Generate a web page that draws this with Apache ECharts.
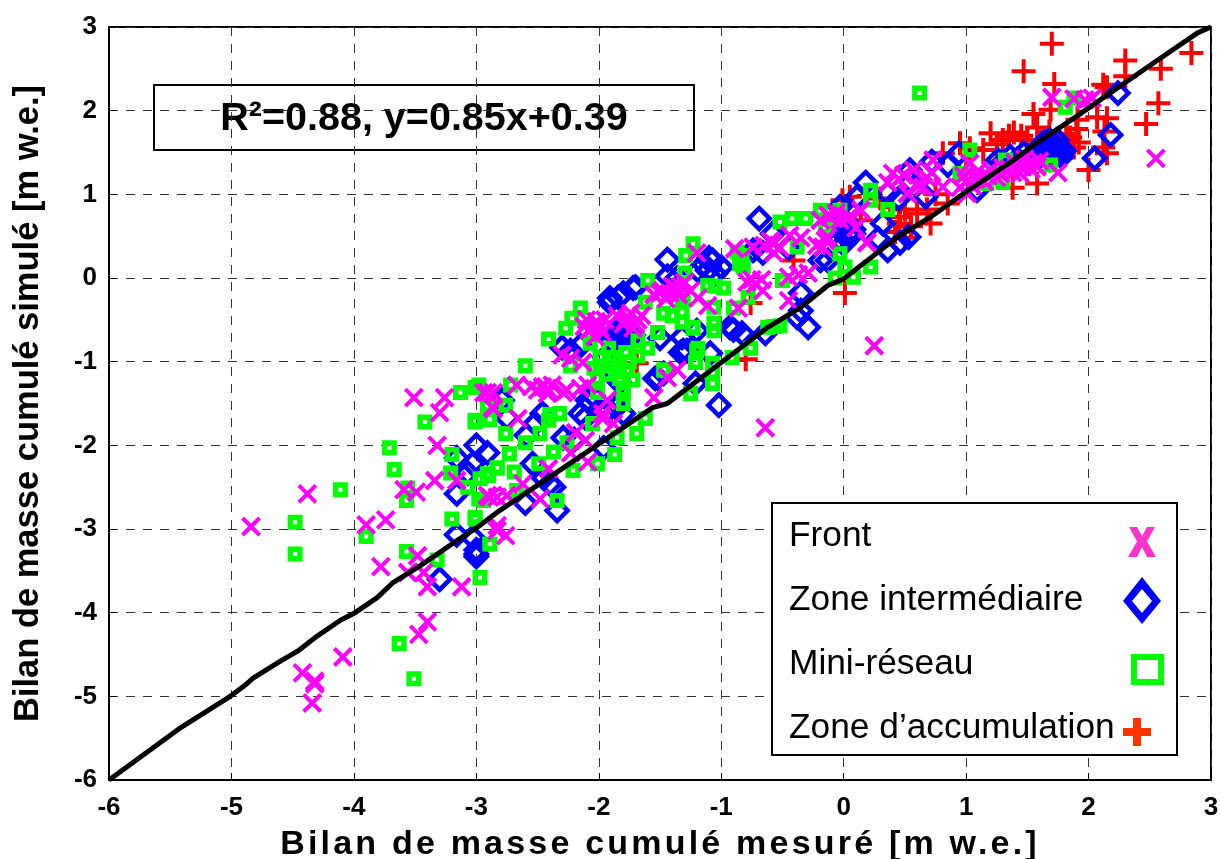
<!DOCTYPE html>
<html><head><meta charset="utf-8">
<style>html,body{margin:0;padding:0;background:#fff}#c{width:1220px;height:859px}</style>
<script src="https://cdn.jsdelivr.net/npm/echarts@6/dist/echarts.min.js"></script>
</head><body><div id="c"></div>
<script>
const seriesNames = ['Front','Zone intermédiaire','Mini-réseau','Zone d’accumulation'];
const axisXTitle = 'Bilan de masse cumulé mesuré [m w.e.]';
const axisYTitle = 'Bilan de masse cumulé simulé [m w.e.]';
const fitLabel = 'R²=0.88, y=0.85x+0.39';

const front = [
[-4.38,-2.58],[-4.84,-2.97],[-3.9,-2.95],[-3.74,-2.89],[-3.78,-3.45],[-3.48,-3.32],[-3.56,-3.52],[-3.43,-3.52],[-3.4,-3.69],[-3.12,-3.69],
[-3.4,-4.11],[-3.47,-4.26],[-4.09,-4.53],[-4.42,-4.72],[-4.32,-4.82],[-4.32,-4.85],[-4.34,-5.08],[-3.51,-1.43],[-3.26,-1.43],[-3.3,-1.61],
[-3.32,-2.0],[-3.34,-2.42],[-3.16,-2.42],[-3.49,-2.56],[-3.59,-2.53],[-2.94,-1.37],[-2.86,-1.37],[-2.87,-1.55],[-2.91,-2.6],[-2.83,-2.62],[-2.83,-3.02],[-2.76,-3.08],
[-2.1,-0.5],[-2.05,-0.6],[-2.0,-0.55],[-1.97,-0.65],[-1.95,-0.5],[-2.03,-0.7],[-2.08,-0.62],[-2.02,-0.52],[-2.12,-0.58],[-1.99,-0.6],
[-1.85,-0.45],[-1.78,-0.5],[-1.74,-0.42],[-1.7,-0.55],[-1.65,-0.45],[-1.72,-0.6],[-1.8,-0.55],[-1.76,-0.47],[-1.68,-0.5],
[-1.55,-0.2],[-1.48,-0.15],[-1.4,-0.1],[-1.35,-0.2],[-1.3,-0.05],[-1.25,-0.15],[-1.45,-0.25],[-1.42,-0.18],[-1.37,-0.12],[-1.5,-0.18],[-1.33,-0.1],
[-1.19,-0.24],[-1.11,-0.33],[-1.2,0.3],[-0.89,0.35],[-0.86,-0.36],[-0.79,-0.05],[-0.72,-0.07],[-0.67,-0.02],[-0.66,-0.15],[-0.75,-0.02],
[-0.45,0.01],[-0.29,0.06],[-0.37,0.04],[-0.45,-0.27],[-0.57,0.41],[-0.74,0.37],[-0.65,0.39],[-0.57,0.3],[-0.44,0.51],[-0.35,0.48],[-0.22,0.39],[-0.15,0.45],[-0.6,0.44],[-0.52,0.36],
[-0.13,0.75],[-0.06,0.78],[0.03,0.71],[0.14,0.81],[0.19,0.42],
[-2.23,-0.96],[-2.3,-0.92],[-2.13,-1.01],[-2.42,-1.32],[-2.29,-1.37],[-2.15,-1.32],[-1.93,-1.46],[-1.36,-1.1],[-1.44,-1.19],[-1.55,-1.43],[-1.97,-1.62],
[-2.91,-1.37],[-2.86,-1.56],[-2.66,-1.68],[-2.67,-1.28],[-2.5,-1.34],[-2.42,-1.38],[-2.26,-1.34],[-2.09,-1.28],[-1.97,-1.68],[-2.19,-1.85],[-2.11,-1.94],[-2.23,-2.09],[-2.09,-2.2],[-2.41,-2.28],[-2.62,-2.46],[-2.89,-2.62],[-2.75,-2.6],[-2.48,-2.64],[-2.83,-2.96],[-1.88,-1.74],[-2.46,-1.3],[-2.38,-1.28],[-2.55,-1.3],
[1.7,2.16],[1.88,2.14],[1.97,2.13],[2.03,2.15],[2.55,1.43],[1.75,1.26],[1.55,1.38],[1.44,1.25],[1.5,1.35],[1.6,1.4],[1.35,1.3],[1.25,1.2],[1.3,1.32],[1.4,1.38],[1.48,1.42],[1.15,1.15],[1.1,1.28],[1.05,1.1],[1.38,1.26],[1.45,1.33],[1.53,1.3],[1.28,1.25],[1.18,1.22],[1.08,1.18],[1.0,1.15],[1.58,1.33],
[1.03,1.37],[1.01,1.01],[0.95,1.08],[1.12,1.2],[1.2,1.29],[0.98,1.22],[0.73,1.41],[0.72,1.26],[0.65,1.09],[0.52,1.01],[0.6,1.1],[0.4,1.25],[0.49,1.23],[0.36,1.14],[0.57,1.29],[0.81,1.09],[0.45,1.18],[0.68,1.2],
[0.14,0.81],[0.05,0.73],[-0.11,0.73],[-0.03,0.69],[-0.19,0.69],[-0.13,0.49],[-0.17,0.37],[0.19,0.43],[0.1,0.6],[0.25,-0.81],[-0.64,-1.79]
];
const intermediate = [
[-3.16,-2.15],[-3.0,-2.0],[-2.91,-2.09],[-3.07,-2.33],[-3.16,-2.58],[-3.16,-3.07],[-3.03,-3.1],[-3.0,-3.3],[-3.0,-3.33],[-3.0,-3.25],[-3.3,-3.6],
[-1.91,-0.29],[-1.84,-0.23],[-1.72,-0.12],[-1.8,-0.18],[-2.23,-0.87],[-2.3,-0.83],[-2.15,-0.81],
[-1.85,-0.7],[-1.8,-0.72],[-1.75,-0.72],[-1.9,-0.75],[-1.83,-0.65],[-1.78,-0.65],[-1.72,-0.68],[-1.86,-0.62],[-1.82,-0.75],[-1.77,-0.6],[-1.88,-0.68],[-1.5,-0.72],[-1.33,-0.89],[-1.28,-0.87],[-1.54,-1.2],[-1.47,-1.14],
[-2.07,-1.5],[-1.99,-1.58],[-2.15,-1.62],[-1.8,-1.62],[-1.91,-1.08],[-1.83,-1.25],[-1.95,-0.95],[-2.05,-1.4],[-1.86,-1.55],
[-3.03,-2.22],[-2.75,-1.67],[-2.52,-1.74],[-2.59,-1.88],[-2.79,-1.46],[-2.46,-1.62],[-2.11,-1.67],[-1.92,-1.58],[-2.09,-1.46],[-2.29,-1.91],[-2.2,-1.93],[-1.96,-2.03],[-2.54,-2.22],[-2.4,-2.46],[-2.37,-2.5],[-2.45,-2.39],[-2.6,-2.69],[-2.34,-2.78],
[-1.44,0.22],[-1.7,-0.11],[-1.91,-0.24],[-1.07,0.21],[-1.0,0.13],[-1.11,0.09],[-1.19,0.09],[-1.1,0.24],[-1.44,0.02],[-1.36,0],[-1.05,0.05],[-1.14,0.16],[-1.2,-0.63],[-0.93,-0.59],[-0.83,-0.66],[-0.9,-0.62],[-0.64,-0.66],[-1.32,-0.71],[-1.31,-0.87],[-1.52,-1.19],[-1.09,-0.9],[-1.21,-1.26],[-1.02,-1.52],[-1.83,-0.75],
[-0.69,0.71],[-0.29,-0.59],[-0.38,-0.47],[-0.35,-0.39],[-0.35,-0.18],[-0.19,0.21],[-0.02,0.55],[0.05,0.5],[0.02,0.62],[0.08,0.58],[-0.05,0.45],[0,0.7],[0.18,1.14],[-0.03,0.85],[0.11,0.97],[-0.74,0.33],[-0.58,0.53],[-0.66,0.3],[-0.45,0.36],[0.03,0.52],[0.0,0.6],
[2.24,2.21],[2.18,1.71],[2.05,1.43],[1.6,1.45],[1.65,1.55],[1.7,1.6],[1.72,1.5],[1.75,1.55],[1.78,1.45],[1.68,1.42],[1.62,1.6],[1.74,1.65],[1.66,1.5],[1.7,1.45],[1.72,1.58],[1.76,1.5],[1.64,1.62],[1.68,1.65],[1.58,1.52],[1.8,1.52],[1.7,1.52],[1.47,1.49],[1.36,1.45],[1.26,1.41],[1.42,1.42],[1.3,1.38],[0.94,1.49],[0.72,1.39],[0.54,1.29],[0.36,1.01],[0.67,0.97],[0.45,0.95],[1.09,1.05],[0.53,0.49],[0.46,0.42],[0.36,0.33],[0.28,0.47],[0.32,0.65],[-0.03,0.57],[0.08,0.53],[0,0.41],[-0.13,0.21],[0.55,1.15],[0.85,1.35]
];
const miniNetwork = [
[-4.11,-2.53],[-4.48,-2.92],[-4.48,-3.3],[-3.9,-3.09],[-3.71,-2.03],[-3.67,-2.29],[-3.56,-2.51],[-3.57,-2.66],[-3.57,-3.27],[-3.32,-3.37],[-2.97,-3.58],[-3.63,-4.37],[-3.51,-4.79],
[-3.42,-1.72],[-3.13,-1.37],[-3.01,-1.31],[-3.01,-1.72],[-2.89,-1.69],[-2.91,-1.52],[-3.2,-2.11],[-3.21,-2.33],[-3.07,-2.5],[-2.97,-2.4],[-2.9,-2.36],[-2.83,-2.27],[-2.94,-2.66],[-3.2,-2.88],[-3.01,-2.88],[-2.89,-3.18],
[-2.41,-0.73],[-2.15,-0.36],[-2.27,-0.6],[-2.22,-0.48],[-2.07,-0.78],[-1.92,-0.84],[-1.99,-0.95],[-1.78,-0.89],[-1.68,-0.75],[-1.6,-0.84],[-1.68,-0.93],[-1.83,-1.02],[-1.77,-1.1],[-1.72,-1.22],[-1.83,-1.2],[-2.01,-1.2],[-1.99,-1.05],[-1.8,-1.37],[-1.8,-1.5],[-2.23,-1.05],[-1.62,-0.29],[-1.6,-0.03],[-1.47,-0.42],[-1.32,-0.41],[-1.32,-0.53],[-1.52,-0.65],[-1.23,-0.59],[-1.4,-0.45],[-1.31,-0.24],[-1.2,-0.87],[-1.47,-1.1],[-1.25,-1.38],[-2.32,-1.62],[-2.4,-1.63],[-1.88,-0.95],[-1.9,-1.05],[-1.94,-1.15],[-1.75,-1.0],[-1.85,-1.12],[-2.04,-1.08],
[-3.01,-1.7],[-2.76,-1.86],[-2.6,-1.97],[-2.73,-2.1],[-2.83,-2.27],[-2.91,-2.34],[-2.69,-2.32],[-2.48,-1.86],[-2.41,-1.7],[-2.37,-2.08],[-2.49,-2.22],[-2.21,-2.3],[-1.87,-2.11],[-2.01,-2.22],[-2.26,-1.97],[-2.34,-2.66],[-2.98,-2.64],[-3.01,-2.86],[-2.67,-2.54],[-2.05,-1.74],[-1.85,-1.91],[-1.8,-1.34],[-2.01,-1.37],[-2.98,-1.28],[-2.6,-1.05],[-2.72,-1.28],[-2.76,-1.52],
[-1.23,0.41],[-1.29,0.27],[-1.3,0.06],[-0.98,-0.12],[-1.11,-0.09],[-1.05,-0.1],[-0.84,0.21],[-0.87,0.31],[-0.82,0.13],[-0.83,0.27],[-0.85,0.17],[-0.78,-0.23],[-0.9,-0.36],[-1.06,-0.35],[-1.06,-0.54],[-1.06,-0.63],[-1.23,-0.6],[-1.32,-0.27],[-1.19,-0.84],[-1.21,-1.01],[-1.07,-1.02],[-1.07,-1.26],[-1.07,-1.13],[-1.46,-1.1],[-1.62,-1.68],[-1.69,-1.86],
[-0.91,-0.95],[-0.76,-0.84],[-0.52,-0.57],[-0.57,-0.58],[-0.62,-0.59],[-0.52,0.67],[-0.42,0.71],[-0.31,0.71],[-0.38,0.37],[-0.07,0],[0.08,0.01],[0.01,0.13],[0.22,0.13],[-0.03,0.29],[0.22,1.05],[0.22,0.93],[-0.19,0.81],[-0.5,-0.03],
[0.62,2.21],[0.36,0.82],[1.03,1.53],[1.69,1.35],[1.3,1.14],[1.17,1.13],[1.22,1.25],[0.95,1.25],[1.81,2.04],[1.88,2.15],[1.32,1.41],[-0.15,0.61],[-0.03,0.81]
];
const accumulation = [
[1.7,2.8],[1.47,2.47],[1.72,2.32],[2.84,2.69],[2.3,2.6],[2.59,2.5],[2.3,2.41],[2.12,2.31],[2.15,2.28],[2.57,2.09],[2.47,1.84],[1.55,1.96],[1.69,2.01],[2.07,1.92],[2.15,1.91],[1.91,1.89],[1.9,1.78],[1.85,1.68],[1.88,1.56],[2.13,1.75],[2.15,1.49],[2.12,1.56],[2.0,1.29],
[1.2,1.73],[1.39,1.74],[1.3,1.65],[1.35,1.7],[0.95,1.61],[1.03,1.55],[1.14,1.53],[1.5,1.65],[1.58,1.8],[1.68,1.75],[0.81,1.49],[1.38,1.08],[1.58,1.13],[0.71,0.65],[0.6,0.77],[0.46,0.73],[0.5,0.82],[0.45,0.65],[0.85,0.89],
[0.01,-0.18],[-0.8,-0.97],[-0.41,0.21],[-0.76,-0.3],[-1.69,-1.02],[0.14,0.69],[0.05,0.97],[-0.01,0.93],[0.42,0.55],[0.5,0.48],[0.75,1.0],[1.0,1.25],[0.3,0.95],[0.55,0.62],[0.38,0.85],[0.68,0.82],[1.25,1.6],[1.45,1.7],[1.82,1.72],[1.92,1.62]
];
const ruleLine = [
[-6,-6],[-5.43,-5.39],[-5.01,-5],[-4.9,-4.88],[-4.82,-4.78],[-4.6,-4.58],[-4.46,-4.46],[-4.3,-4.28],[-4.11,-4.09],[-3.99,-4.0],[-3.81,-3.82],[-3.68,-3.64],[-3.46,-3.44],[-3.16,-3.14],[-3.01,-3.0],[-2.81,-2.78],[-2.32,-2.3],[-1.56,-1.55],[-1.44,-1.5],[-1.0,-1.01],[-0.62,-0.59],[-0.35,-0.35],[-0.13,-0.09],[0,-0.01],[0.3,0.33],[0.44,0.49],[0.71,0.73],[0.98,1.01],[1.39,1.41],[1.55,1.59],[1.89,1.92],[2.53,2.57],[2.89,2.93],[3,3]
];

// the x title is letter-spaced in the original
const nativeFillText = CanvasRenderingContext2D.prototype.fillText;
CanvasRenderingContext2D.prototype.fillText = function(t, x, y, m){
  if (t === axisXTitle) { this.letterSpacing = '3.2px'; }
  const r = m === undefined ? nativeFillText.call(this, t, x, y) : nativeFillText.call(this, t, x, y, m);
  if (t === axisXTitle) { this.letterSpacing = '0px'; }
  return r;
};

const font = '"Liberation Sans"';
const dash = {color:'#333', width:1, type:[9,8]};
const tickLabel = {fontFamily:font, fontWeight:'bold', fontSize:26, color:'#000'};
function axis(name, gap, size, extra){
  return Object.assign({type:'value', min:-6, max:3, interval:1, name, nameLocation:'middle', nameGap:gap,
    nameTextStyle:{fontFamily:font, fontWeight:'bold', fontSize:size, color:'#000'},
    axisLine:{show:true, onZero:false, lineStyle:{color:'#000', width:2}},
    axisTick:{show:true, inside:true, length:7, lineStyle:{color:'#000', width:1}},
    splitLine:{show:true, lineStyle:dash}, axisLabel:tickLabel}, extra);
}
const bbox = ' M0 0 Z M50 48 Z';
const legendIcons = [
 'path://M9 15L17 15L22 24L27 15L35 15L27 29.5L36 45L27 45L22 35L17 45L8 45L17 29.5Z'+bbox,
 'path://M22 1L41 25L22 48L3 25Z M22 13L12 25L22 37L32 25Z'+bbox,
 'path://M11 14L44 14L44 45L11 45Z M17 20L17 39L38 39L38 20Z'+bbox,
 'path://M13 14L21 14L21 24L31 24L31 32L21 32L21 42L13 42L13 32L3 32L3 24L13 24Z'+bbox
];
const legendColors = ['#FF33CC','#0000FF','#00FF00','#FF3300'];
const pts = d => ({type:'scatter', data:d, clip:true});
const chart = echarts.init(document.getElementById('c'), null, {renderer:'canvas'});
chart.setOption({
  animation:false, backgroundColor:'#fff',
  grid:{left:109, right:9, top:27, bottom:79, outerBoundsMode:'none', show:true, borderColor:'#000', borderWidth:2, backgroundColor:'#fff'},
  xAxis:axis(axisXTitle, 48, 34, {axisLabel:Object.assign({margin:15}, tickLabel)}),
  yAxis:axis(axisYTitle, 63, 34.5, {axisLabel:Object.assign({margin:12}, tickLabel)}),
  legend:{orient:'vertical', left:772, top:503, align:'right', padding:[9,7,3,17], itemGap:16, itemWidth:50, itemHeight:48, itemTextGap:3,
    backgroundColor:'#fff', borderColor:'#000', borderWidth:2, selectedMode:false,
    formatter:n=>'{a|'+n+'}',
    textStyle:{rich:{a:{fontFamily:font, fontSize:35.3, color:'#000', width:326, align:'left'}}},
    data:seriesNames.map((n,i)=>({name:n, icon:legendIcons[i], itemStyle:{color:legendColors[i], borderWidth:0, opacity:1}}))},
  graphic:[{type:'group', z:100, children:[
    {type:'rect', shape:{x:154,y:85,width:540,height:65}, style:{fill:'#fff', stroke:'#000', lineWidth:2}},
    {type:'text', x:424, y:119, style:{text:fitLabel, fill:'#000', font:'bold 39.5px "Liberation Sans"', align:'center', verticalAlign:'middle'}}
  ]}],
  series:[
    Object.assign(pts(accumulation),{name:seriesNames[3], z:2, symbol:'path://M8 0L8 16M0 8L16 8', symbolSize:24, itemStyle:{color:'none', borderColor:'#FF0000', borderWidth:4, opacity:1}}),
    Object.assign(pts(intermediate),{name:seriesNames[1], z:3, symbol:'diamond', symbolSize:21, itemStyle:{color:'none', borderColor:'#0000FF', borderWidth:4.5, opacity:1}}),
    Object.assign(pts(miniNetwork),{name:seriesNames[2], z:4, symbol:'rect', symbolSize:9.5, itemStyle:{color:'none', borderColor:'#00FF00', borderWidth:5.5, opacity:1}}),
    Object.assign(pts(front),{name:seriesNames[0], z:5, symbol:'path://M0 0L16 16M16 0L0 16', symbolSize:17, itemStyle:{color:'none', borderColor:'#FF00FF', borderWidth:4, opacity:1}}),
    {type:'line', name:'rule', z:6, data:ruleLine, symbol:'none', smooth:false, lineStyle:{color:'#000', width:5}}
  ]
});
</script></body></html>
